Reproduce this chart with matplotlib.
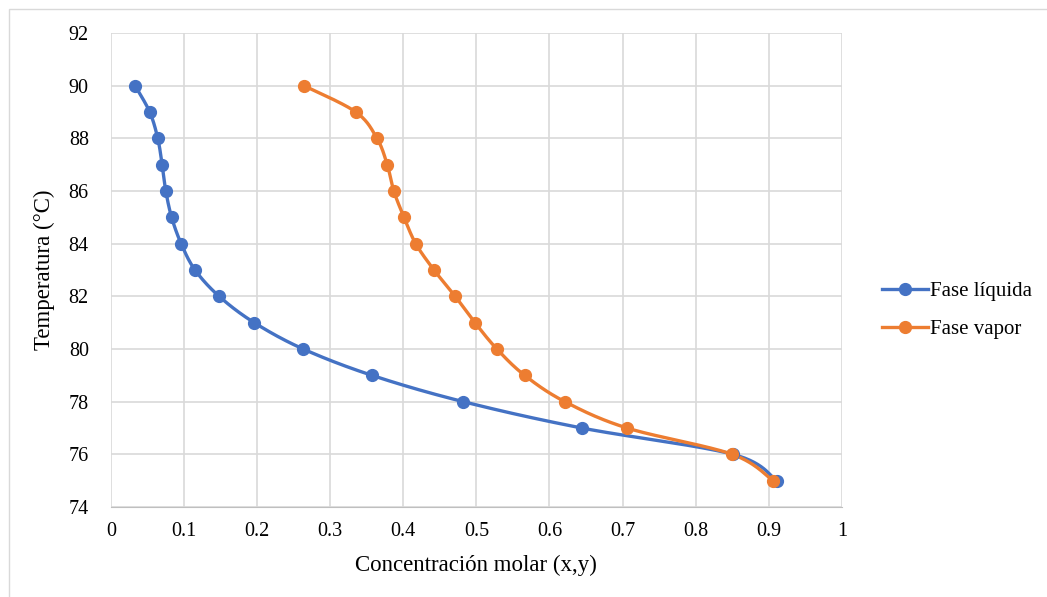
import numpy as np
import matplotlib.pyplot as plt
from matplotlib.patches import Rectangle

# temperatura (°C)
temp = [90, 89, 88, 87, 86, 85, 84, 83, 82, 81, 80, 79, 78, 77, 76, 75]
# fase liquida (x)
x_liq = [0.033, 0.053, 0.064, 0.070, 0.075, 0.083, 0.096, 0.115, 0.148, 0.196,
         0.263, 0.357, 0.482, 0.644, 0.851, 0.911]
# fase vapor (y)
y_vap = [0.264, 0.335, 0.364, 0.378, 0.387, 0.401, 0.417, 0.442, 0.471, 0.498,
         0.528, 0.566, 0.621, 0.706, 0.850, 0.906]

xticks = [0, 0.1, 0.2, 0.3, 0.4, 0.5, 0.6, 0.7, 0.8, 0.9, 1]
xtlab = ['0', '0.1', '0.2', '0.3', '0.4', '0.5', '0.6', '0.7', '0.8', '0.9', '1']
yticks = [74, 76, 78, 80, 82, 84, 86, 88, 90, 92]

plt.rcParams['font.family'] = ['Liberation Serif', 'DejaVu Serif']


def suave(xs, ys, sx=731.0, sy=26.33, n=30):
    # curva suavizada tipo Excel (Catmull-Rom en espacio de pixeles)
    p = np.column_stack([np.array(xs) * sx, np.array(ys) * sy])
    p = np.vstack([p[0], p, p[-1]])
    out = []
    t = np.linspace(0, 1, n)[:, None]
    for i in range(1, len(p) - 2):
        p0, p1, p2, p3 = p[i - 1], p[i], p[i + 1], p[i + 2]
        c = 0.5 * ((2 * p1) + (-p0 + p2) * t + (2 * p0 - 5 * p1 + 4 * p2 - p3) * t ** 2
                   + (-p0 + 3 * p1 - 3 * p2 + p3) * t ** 3)
        out.append(c)
    out = np.vstack(out)
    return out[:, 0] / sx, out[:, 1] / sy


fig = plt.figure(figsize=(10.47, 5.97), dpi=100)
ax = fig.add_axes([0.106, 0.1508, 0.698, 0.7939])

fig.patches.append(Rectangle((9 / 1047, -0.05), 1.2, 1 - 9 / 597 + 0.05,
                             transform=fig.transFigure, fill=False,
                             edgecolor='#d9d9d9', lw=1))

azul = '#4472c4'
naranja = '#ed7d31'
for xs, col, lab in [(x_liq, azul, 'Fase líquida'), (y_vap, naranja, 'Fase vapor')]:
    cx, cy = suave(xs, temp)
    ax.plot(cx, cy, color=col, lw=2.4, zorder=3)
    ax.plot(xs, temp, 'o', color=col, ms=8.5, zorder=4)
    ax.plot([], [], '-o', color=col, lw=2.4, ms=8.5, label=lab)

ax.set_xlim(0, 1)
ax.set_ylim(74, 92)
ax.set_xticks(xticks)
ax.set_xticklabels(xtlab)
ax.set_yticks(yticks)
ax.grid(True, color='#d9d9d9', lw=1.2)
ax.set_axisbelow(True)
for s in ['top', 'right', 'left']:
    ax.spines[s].set_visible(False)
ax.spines['bottom'].set_color('#bfbfbf')
ax.tick_params(length=0, labelsize=14.5, pad=11)
ax.tick_params(axis='y', pad=16)

ax.set_xlabel('Concentración molar (x,y)', fontsize=16.5, labelpad=10)
ax.set_ylabel('Temperatura (°C)', fontsize=16.5, labelpad=10)

ax.legend(loc='center left', bbox_to_anchor=(1.03, 0.415), frameon=False,
          fontsize=15, handlelength=2.2, labelspacing=0.9, handletextpad=0.1)

fig.savefig('out.png', dpi=100)
